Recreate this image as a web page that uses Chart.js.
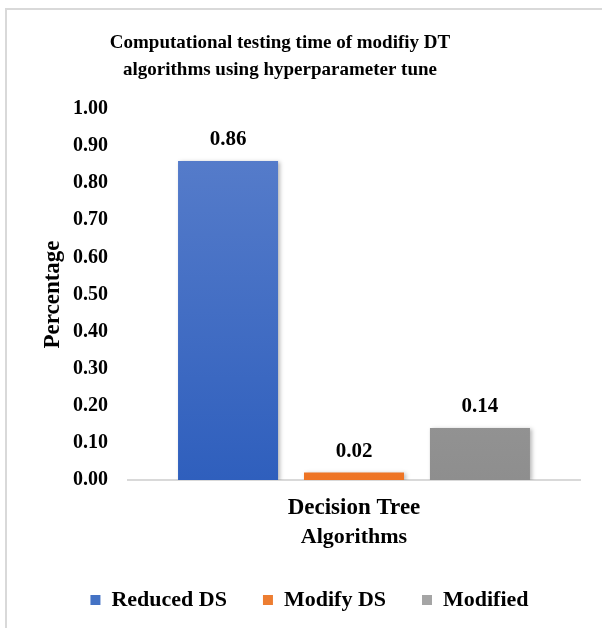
<!DOCTYPE html>
<html>
<head>
<meta charset="utf-8">
<script src="https://cdn.jsdelivr.net/npm/chart.js@4"></script>
<style>
  html, body { margin: 0; padding: 0; background: #ffffff; }
  #wrap { position: relative; width: 602px; height: 628px; }
</style>
</head>
<body>
<div id="wrap"><canvas id="chart"></canvas></div>
<script>
// Chart data
const categories = ['Decision Tree'];
const seriesNames = ['Reduced DS', 'Modify DS', 'Modified'];
const reducedDS = [0.86];
const modifyDS = [0.02];
const modified = [0.14];
const yTicks = [0, 0.1, 0.2, 0.3, 0.4, 0.5, 0.6, 0.7, 0.8, 0.9, 1.0];
const titleLines = ['Computational testing time of modifiy DT', 'algorithms using hyperparameter tune'];

const FONT = '"Liberation Serif", "Times New Roman", serif';

// Vertical gradient fills (lighter at top, darker at base)
const palettes = [
  ['#5b80cc', '#2f5fbd'],
  ['#f48a3c', '#ee7424'],
  ['#a9a9a9', '#8e8e8e']
];
function gradientFill(i) {
  return function (ctx) {
    const chart = ctx.chart;
    const area = chart.chartArea;
    if (!area) return palettes[i][1];
    const g = chart.ctx.createLinearGradient(0, area.top, 0, area.bottom);
    g.addColorStop(0, palettes[i][0]);
    g.addColorStop(1, palettes[i][1]);
    return g;
  };
}
const legendSwatch = ['#4472c4', '#ed7d31', '#a5a5a5'];

// Light frame along the top and left edges, plus the two-line heading
const framePlugin = {
  id: 'frame',
  beforeDraw(chart) {
    const c = chart.ctx;
    c.save();
    c.strokeStyle = '#d9d9d9';
    c.lineWidth = 2;
    c.beginPath();
    c.moveTo(6, chart.height);
    c.lineTo(6, 9);
    c.lineTo(chart.width, 9);
    c.stroke();

    c.fillStyle = '#000000';
    c.font = 'bold 19px ' + FONT;
    c.textAlign = 'center';
    c.textBaseline = 'middle';
    titleLines.forEach((line, k) => c.fillText(line, 280, 43 + k * 27));
    c.restore();
  }
};

// Soft shadow behind bars
const shadowPlugin = {
  id: 'barShadow',
  beforeDatasetsDraw(chart) {
    const c = chart.ctx;
    c.save();
    c.shadowColor = 'rgba(0,0,0,0.28)';
    c.shadowBlur = 4;
    c.shadowOffsetX = 2;
    c.shadowOffsetY = 1;
  },
  afterDatasetsDraw(chart) {
    chart.ctx.restore();
  }
};

// Value labels above each bar
const valueLabels = {
  id: 'valueLabels',
  afterDatasetsDraw(chart) {
    const c = chart.ctx;
    c.save();
    c.font = 'bold 21px ' + FONT;
    c.fillStyle = '#000000';
    c.textAlign = 'center';
    c.textBaseline = 'middle';
    chart.data.datasets.forEach((ds, i) => {
      const meta = chart.getDatasetMeta(i);
      meta.data.forEach((bar, j) => {
        c.fillText(ds.data[j].toFixed(2), bar.x, bar.y - 21);
      });
    });
    c.restore();
  }
};

const seriesValues = [reducedDS, modifyDS, modified];

new Chart(document.getElementById('chart'), {
  type: 'bar',
  data: {
    labels: categories,
    datasets: seriesNames.map((name, i) => ({
      label: name,
      data: seriesValues[i],
      backgroundColor: gradientFill(i),
      borderWidth: 0,
      categoryPercentage: 0.836,
      barPercentage: 0.794
    }))
  },
  options: {
    responsive: true,
    maintainAspectRatio: false,
    animation: false,
    layout: { padding: { top: 109, right: 22, bottom: 7, left: 39 } },
    plugins: {
      title: { display: false },
      legend: {
        position: 'bottom',
        labels: {
          color: '#000000',
          font: { family: FONT, size: 22, weight: 'bold' },
          boxWidth: 10,
          boxHeight: 10,
          padding: 36,
          generateLabels(chart) {
            return chart.data.datasets.map((ds, i) => ({
              text: ds.label,
              fillStyle: legendSwatch[i],
              strokeStyle: legendSwatch[i],
              lineWidth: 0,
              datasetIndex: i,
              hidden: false
            }));
          }
        }
      },
      tooltip: { enabled: false }
    },
    scales: {
      x: {
        afterFit(axis) { axis.height = 73; },
        grid: { display: false, drawTicks: false },
        border: { display: true, color: '#d9d9d9', width: 2 },
        ticks: { color: '#000000', font: { family: FONT, size: 23, weight: 'bold' }, padding: 14 },
        title: {
          display: true,
          text: 'Algorithms',
          color: '#000000',
          font: { family: FONT, size: 22, weight: 'bold' },
          padding: { top: 4, bottom: 2 }
        }
      },
      y: {
        min: 0,
        max: 1,
        afterBuildTicks(axis) { axis.ticks = yTicks.map(v => ({ value: v })); },
        afterFit(axis) { axis.width = 128 - 39; },
        grid: { display: false, drawTicks: false },
        border: { display: false },
        ticks: {
          color: '#000000',
          font: { family: FONT, size: 20, weight: 'bold' },
          padding: 20,
          callback: v => Number(v).toFixed(2)
        },
        title: {
          display: true,
          text: 'Percentage',
          color: '#000000',
          font: { family: FONT, size: 23, weight: 'bold' },
          padding: 0
        }
      }
    }
  },
  plugins: [framePlugin, shadowPlugin, valueLabels]
});
</script>
</body>
</html>
